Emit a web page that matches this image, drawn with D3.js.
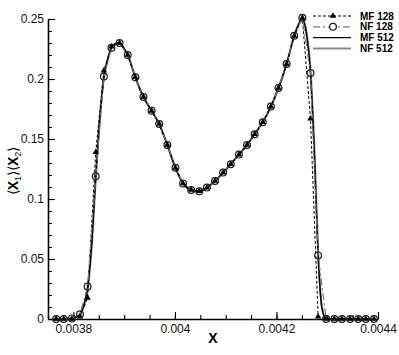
<!DOCTYPE html>
<html>
<head>
<meta charset="utf-8">
<script src="https://cdn.jsdelivr.net/npm/d3@7"></script>
<style>
  body { margin: 0; background: #fff; }
  text { font-family: "Liberation Sans", Arial, sans-serif; }
</style>
</head>
<body>
<div id="chart"></div>
<script>
// grid of the 128 runs (marker positions)
let x128 = [0.003766, 0.003781, 0.003797, 0.003813, 0.003828, 0.003844, 0.00386, 0.003875,
  0.003891, 0.003907, 0.003922, 0.003938, 0.003954, 0.003969, 0.003985, 0.004001, 0.004016,
  0.004032, 0.004048, 0.004063, 0.004079, 0.004095, 0.00411, 0.004126, 0.004142, 0.004157,
  0.004173, 0.004189, 0.004204, 0.00422, 0.004235, 0.004251, 0.004267, 0.004282, 0.004298,
  0.004314, 0.004329, 0.004345, 0.004361, 0.004376, 0.004392]

let nf128 = [0, 0, 0.0005, 0.004, 0.027, 0.119, 0.202, 0.226, 0.23, 0.22, 0.2015, 0.185,
  0.1735, 0.1625, 0.145, 0.126, 0.113, 0.1075, 0.1065, 0.1095, 0.115, 0.122, 0.129, 0.137,
  0.145, 0.154, 0.164, 0.177, 0.1925, 0.2125, 0.236, 0.251, 0.205, 0.053, 0,
  0, 0, 0, 0, 0, 0]

let mf128 = [0, 0, 0, 0.002, 0.0175, 0.139, 0.207, 0.227, 0.23, 0.22, 0.2015, 0.185,
  0.1735, 0.1625, 0.145, 0.126, 0.113, 0.1075, 0.1065, 0.1095, 0.115, 0.122, 0.129, 0.137,
  0.145, 0.154, 0.164, 0.177, 0.1925, 0.2125, 0.236, 0.251, 0.167, 0.002, 0,
  0, 0, 0, 0, 0, 0]

// finer 512 runs
let x512 = [0.003766, 0.003781, 0.003797, 0.003805, 0.003813, 0.00382, 0.003828, 0.003836,
  0.003844, 0.003852, 0.00386, 0.003868, 0.003875, 0.003883, 0.003891, 0.003899, 0.003907,
  0.003922, 0.003938, 0.003954, 0.003969, 0.003985, 0.004001, 0.004016, 0.004032, 0.004048,
  0.004063, 0.004079, 0.004095, 0.00411, 0.004126, 0.004142, 0.004157, 0.004173, 0.004189,
  0.004204, 0.00422, 0.004235, 0.004243, 0.004251, 0.004259, 0.004267, 0.004275, 0.004282,
  0.00429, 0.004298, 0.004392]

let mf512 = [0, 0, 0.0005, 0.0015, 0.004, 0.011, 0.026, 0.062, 0.118, 0.166, 0.201, 0.217,
  0.226, 0.2295, 0.23, 0.226, 0.22, 0.2015, 0.185, 0.1735, 0.1625, 0.145, 0.126, 0.113,
  0.1075, 0.1065, 0.1095, 0.115, 0.122, 0.129, 0.137, 0.145, 0.154, 0.164, 0.177, 0.1925,
  0.2125, 0.236, 0.245, 0.25, 0.238, 0.205, 0.135, 0.054, 0.008, 0, 0]

let nf512 = [0, 0, 0.0005, 0.0015, 0.004, 0.01, 0.025, 0.06, 0.117, 0.166, 0.201, 0.217,
  0.226, 0.2295, 0.23, 0.226, 0.22, 0.2015, 0.185, 0.1735, 0.1625, 0.145, 0.126, 0.113,
  0.1075, 0.1065, 0.1095, 0.115, 0.122, 0.129, 0.137, 0.145, 0.154, 0.164, 0.177, 0.1925,
  0.2125, 0.236, 0.245, 0.25, 0.239, 0.207, 0.138, 0.056, 0.009, 0, 0]

let xTicks = [0.0038, 0.004, 0.0042, 0.0044]
let xTickLabels = ['0.0038', '0.004', '0.0042', '0.0044']
let yTicks = [0, 0.05, 0.1, 0.15, 0.2, 0.25]
let yTickLabels = ['0', '0.05', '0.1', '0.15', '0.2', '0.25']
let legendNames = ['MF 128', 'NF 128', 'MF 512', 'NF 512']

let width = 399
let height = 355

let svg = d3
  .select('#chart')
  .append('svg')
  .attr('width', width)
  .attr('height', height)

let x = d3.scaleLinear().domain([0.00375, 0.0044]).range([48, 378])
let y = d3.scaleLinear().domain([0, 0.25]).range([319, 19])

// minor ticks
let xMinor = d3.range(0.00375, 0.0044 + 1e-9, 0.00005)
let yMinor = d3.range(0, 0.25 + 1e-9, 0.01)

svg.append('g')
  .attr('transform', 'translate(0,319)')
  .call(d3.axisBottom(x).tickValues(xMinor).tickSize(-4).tickFormat(''))
  .call(g => g.select('.domain').remove())

svg.append('g')
  .attr('transform', 'translate(48,0)')
  .call(d3.axisLeft(y).tickValues(yMinor).tickSize(-4).tickFormat(''))
  .call(g => g.select('.domain').remove())

// major axes
svg.append('g')
  .attr('transform', 'translate(0,319)')
  .call(d3.axisBottom(x).tickValues(xTicks).tickSizeInner(-7).tickSizeOuter(0)
    .tickPadding(5).tickFormat((d, i) => xTickLabels[i]))

svg.append('g')
  .attr('transform', 'translate(48,0)')
  .call(d3.axisLeft(y).tickValues(yTicks).tickSizeInner(-7).tickSizeOuter(0)
    .tickPadding(4).tickFormat((d, i) => yTickLabels[i]))

svg.selectAll('.domain').attr('stroke-width', 1.6)
svg.selectAll('.tick line').attr('stroke-width', 1.1)
svg.selectAll('.tick text')
  .attr('font-size', 12)
  .attr('font-family', '"Liberation Sans", Arial, sans-serif')
  .attr('fill', '#111')

// curves
let line = d3.line().x(d => x(d[0])).y(d => y(d[1]))
let smooth = d3.line().curve(d3.curveMonotoneX).x(d => x(d[0])).y(d => y(d[1]))
let pts = (xs, ys) => xs.map((v, i) => [v, ys[i]])

svg.append('path')
  .attr('d', smooth(pts(x512, nf512)))
  .attr('fill', 'none')
  .attr('stroke', '#8a8a8a')
  .attr('stroke-width', 2.2)

svg.append('path')
  .attr('d', smooth(pts(x512, mf512)))
  .attr('fill', 'none')
  .attr('stroke', '#000')
  .attr('stroke-width', 1.4)

svg.append('path')
  .attr('d', line(pts(x128, mf128)))
  .attr('fill', 'none')
  .attr('stroke', '#000')
  .attr('stroke-width', 1)
  .attr('stroke-dasharray', '3,2')

svg.append('path')
  .attr('d', line(pts(x128, nf128)))
  .attr('fill', 'none')
  .attr('stroke', '#777')
  .attr('stroke-width', 1.2)
  .attr('stroke-dasharray', '7,3,2,3')

let tri = d3.symbol().type(d3.symbolTriangle).size(18)

svg.selectAll('.tri')
  .data(pts(x128, mf128))
  .enter()
  .append('path')
  .attr('class', 'tri')
  .attr('d', tri)
  .attr('transform', d => 'translate(' + x(d[0]) + ',' + y(d[1]) + ')')
  .attr('fill', '#000')

svg.selectAll('.circ')
  .data(pts(x128, nf128))
  .enter()
  .append('circle')
  .attr('class', 'circ')
  .attr('cx', d => x(d[0]))
  .attr('cy', d => y(d[1]))
  .attr('r', 3.4)
  .attr('fill', 'none')
  .attr('stroke', '#1a1a1a')
  .attr('stroke-width', 1.2)

// legend
let legendStyle = [
  { stroke: '#000', width: 1, dash: '3,2', marker: 'tri' },
  { stroke: '#777', width: 1.2, dash: '7,3,2,3', marker: 'circ' },
  { stroke: '#000', width: 1.4, dash: null, marker: null },
  { stroke: '#8a8a8a', width: 2, dash: null, marker: null }
]

let legend = svg.selectAll('.legend')
  .data(legendNames)
  .enter()
  .append('g')
  .attr('class', 'legend')
  .attr('transform', (d, i) => 'translate(0,' + (16 + i * 10.8) + ')')

legend.append('line')
  .attr('x1', 313)
  .attr('x2', 351)
  .attr('stroke', (d, i) => legendStyle[i].stroke)
  .attr('stroke-width', (d, i) => legendStyle[i].width)
  .attr('stroke-dasharray', (d, i) => legendStyle[i].dash)

legend.filter((d, i) => legendStyle[i].marker === 'tri')
  .append('path')
  .attr('d', tri)
  .attr('transform', 'translate(333,0)')

legend.filter((d, i) => legendStyle[i].marker === 'circ')
  .append('circle')
  .attr('cx', 333)
  .attr('r', 3.4)
  .attr('fill', '#fff')
  .attr('stroke', '#1a1a1a')
  .attr('stroke-width', 1.2)

legend.append('text')
  .attr('x', 360)
  .attr('dy', '0.35em')
  .attr('font-size', 10)
  .attr('font-weight', 'bold')
  .text(d => d)

// axis titles
svg.append('text')
  .attr('x', 213)
  .attr('y', 343)
  .attr('text-anchor', 'middle')
  .attr('font-size', 14)
  .attr('font-weight', 'bold')
  .text('X')

let yTitle = svg.append('text')
  .attr('transform', 'translate(18,171) rotate(-90)')
  .attr('text-anchor', 'middle')
  .attr('font-size', 14)

yTitle.append('tspan').text('\u27E8')
yTitle.append('tspan').attr('font-weight', 'bold').text('X')
yTitle.append('tspan').attr('font-size', 9).attr('dy', 3).text('1')
yTitle.append('tspan').attr('dy', -3).text('\u27E9\u27E8')
yTitle.append('tspan').attr('font-weight', 'bold').text('X')
yTitle.append('tspan').attr('font-size', 9).attr('dy', 3).text('2')
yTitle.append('tspan').attr('dy', -3).text('\u27E9')
</script>
</body>
</html>
